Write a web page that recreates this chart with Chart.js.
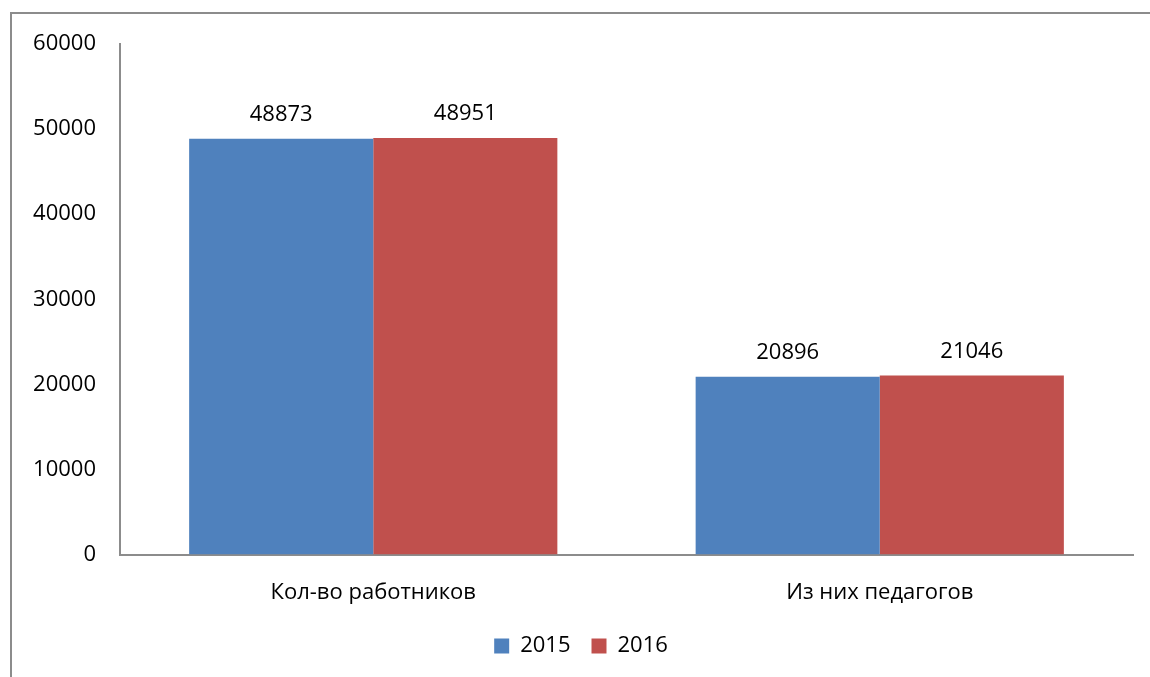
<!DOCTYPE html>
<html>
<head>
<meta charset="utf-8">
<script src="https://cdn.jsdelivr.net/npm/chart.js@4"></script>
<style>
  html, body { margin: 0; padding: 0; background: #fff; }
  #wrap { width: 1150px; height: 677px; position: relative; }
</style>
</head>
<body>
<div id="wrap"><canvas id="bar_chart"></canvas></div>
<script>
var categories = ["Кол-во работников", "Из них педагогов"];
var seriesNames = ["2015", "2016"];
var values2015 = [48873, 20896];
var values2016 = [48951, 21046];
var yTicks = [0, 10000, 20000, 30000, 40000, 50000, 60000];

var FONT = "'Open Sans', 'Noto Sans', sans-serif";
var FS = 22;

// outer frame, like the box around the original picture
var framePlugin = {
    id: 'frame',
    beforeDraw: function(chart) {
        var c = chart.ctx;
        c.save();
        c.strokeStyle = '#8c8c8c';
        c.lineWidth = 2;
        c.beginPath();
        c.moveTo(11, chart.height);
        c.lineTo(11, 13);
        c.lineTo(chart.width, 13);
        c.stroke();
        c.restore();
    }
};

// value labels above bars
var labelPlugin = {
    id: 'barLabels',
    afterDatasetsDraw: function(chart) {
        var c = chart.ctx;
        c.save();
        c.font = FS + 'px ' + FONT;
        c.fillStyle = '#000';
        c.textAlign = 'center';
        c.textBaseline = 'bottom';
        chart.data.datasets.forEach(function(ds, i) {
            chart.getDatasetMeta(i).data.forEach(function(bar, j) {
                c.fillText(ds.data[j], bar.x, bar.y - 13);
            });
        });
        c.restore();
    }
};

var ctx = document.getElementById('bar_chart').getContext('2d');
var myChart = new Chart(ctx, {
    type: 'bar',
    data: {
        labels: categories,
        datasets: [
            {
                label: seriesNames[0],
                data: values2015,
                backgroundColor: '#4F81BD',
                categoryPercentage: 0.727,
                barPercentage: 1
            },
            {
                label: seriesNames[1],
                data: values2016,
                backgroundColor: '#C0504D',
                categoryPercentage: 0.727,
                barPercentage: 1
            }
        ]
    },
    options: {
        responsive: true,
        maintainAspectRatio: false,
        animation: false,
        layout: {
            padding: { left: 29, right: 17, top: 44, bottom: 10 }
        },
        plugins: {
            tooltip: { enabled: false },
            legend: {
                position: 'bottom',
                labels: {
                    font: { family: FONT, size: FS },
                    color: '#000',
                    boxWidth: 15,
                    boxHeight: 15,
                    padding: 21
                }
            }
        },
        scales: {
            x: {
                afterFit: function(axis) { axis.height -= 17; },
                grid: { display: false, drawTicks: false },
                border: { color: '#8c8c8c', width: 2 },
                ticks: {
                    font: { family: FONT, size: FS },
                    color: '#000',
                    padding: 25
                }
            },
            y: {
                min: 0,
                max: 60000,
                afterBuildTicks: function(axis) {
                    axis.ticks = yTicks.map(function(v) { return { value: v }; });
                },
                afterFit: function(axis) { axis.width = 91; },
                grid: { display: false, drawTicks: false },
                border: { color: '#8c8c8c', width: 2 },
                ticks: {
                    font: { family: FONT, size: FS },
                    color: '#000',
                    padding: 24,
                    callback: function(v) { return String(v); }
                }
            }
        }
    },
    plugins: [framePlugin, labelPlugin]
});
</script>
</body>
</html>
